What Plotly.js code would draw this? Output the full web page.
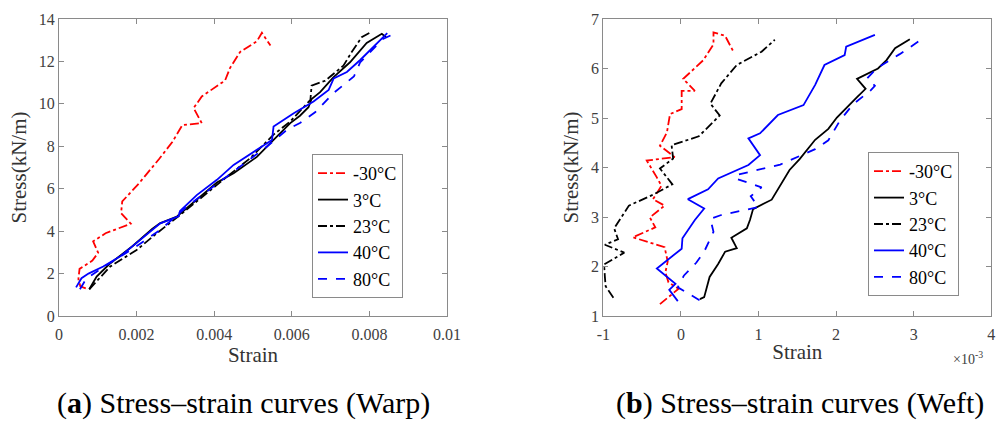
<!DOCTYPE html>
<html>
<head>
<meta charset="utf-8">
<script src="https://cdn.plot.ly/plotly-3.0.1.min.js"></script>
<style>html,body{margin:0;padding:0;background:#fff;}#chart{width:1003px;height:424px;}</style>
</head>
<body>
<div id="chart"></div>
<script>
// ---------- Warp (a) ----------
const warpM30X = [0.00069,0.00055,0.00050,0.00053,0.00086,0.00101,0.00088,0.00120,0.00185,0.00160,0.00163,0.00206,0.00258,0.00292,0.00318,0.00368,0.00347,0.00368,0.00428,0.00441,0.00467,0.00510,0.00523,0.00545];
const warpM30Y = [1.30,1.40,1.74,2.22,2.61,2.98,3.52,3.90,4.35,4.85,5.40,6.25,7.40,8.20,9.00,9.09,9.80,10.35,11.10,11.70,12.45,12.95,13.35,12.75];

const warp3X = [0.00078,0.00097,0.00130,0.00190,0.00240,0.00260,0.00304,0.00364,0.00407,0.00450,0.00510,0.00553,0.00596,0.00621,0.00643,0.00651,0.00673,0.00707,0.00750,0.00793,0.00832,0.00843];
const warp3Y = [1.26,1.86,2.45,3.30,4.10,4.37,4.69,5.63,6.29,6.73,7.50,8.30,9.09,9.44,9.84,10.23,10.55,11.25,11.96,12.87,13.30,13.14];

const warp23X = [0.00078,0.00095,0.00132,0.00200,0.00252,0.00312,0.00364,0.00433,0.00493,0.00553,0.00596,0.00631,0.00648,0.00651,0.00686,0.00733,0.00754,0.00780,0.00806];
const warp23Y = [1.26,1.60,2.33,3.11,3.90,4.76,5.55,6.57,7.44,8.55,9.17,9.87,10.19,10.86,11.09,11.80,12.43,13.14,13.40];

const warp40X = [0.00044,0.00058,0.00076,0.00114,0.00157,0.00209,0.00261,0.00308,0.00312,0.00355,0.00407,0.00450,0.00502,0.00549,0.00553,0.00605,0.00656,0.00695,0.00708,0.00742,0.00777,0.00811,0.00846];
const warp40Y = [1.35,1.78,2.00,2.33,2.80,3.58,4.37,4.70,4.95,5.70,6.42,7.12,7.75,8.30,8.93,9.56,10.11,10.66,11.20,11.50,12.08,12.70,13.33];

const warp80X = [0.00054,0.00070,0.00110,0.00192,0.00261,0.00330,0.00398,0.00467,0.00536,0.00587,0.00621,0.00660,0.00707,0.00760,0.00776,0.00793,0.00835,0.00875];
const warp80Y = [1.26,1.75,2.25,3.19,4.06,5.16,6.10,7.04,7.99,8.77,9.10,9.60,10.50,11.29,11.95,12.27,13.06,13.40];

// ---------- Weft (b), strain in units of 1e-3 ----------
const weftM30X = [-0.27,-0.03,-0.16,-0.20,-0.17,-0.21,-0.62,-0.33,-0.40,-0.21,-0.36,-0.25,-0.31,-0.44,-0.08,-0.27,-0.18,-0.14,0.01,0.01,0.18,0.03,0.29,0.42,0.42,0.57,0.68];
const weftM30Y = [1.24,1.55,1.68,1.88,2.10,2.39,2.59,2.79,2.99,3.23,3.36,3.63,3.80,4.14,4.21,4.44,4.71,5.08,5.18,5.55,5.55,5.79,6.17,6.49,6.73,6.66,6.33];

const weft3X = [0.245,0.30,0.37,0.48,0.57,0.72,0.65,0.85,0.89,0.93,1.17,1.28,1.40,1.53,1.73,1.90,2.01,2.27,2.38,2.27,2.44,2.54,2.65,2.76,2.95];
const weft3Y = [1.34,1.38,1.79,2.05,2.30,2.37,2.58,2.77,2.94,3.16,3.35,3.63,3.95,4.17,4.56,4.78,5.01,5.42,5.59,5.79,5.92,6.00,6.17,6.41,6.59];

const weft23X = [-0.87,-0.97,-0.98,-0.99,-0.73,-0.98,-0.81,-0.86,-0.67,-0.36,-0.11,-0.27,-0.10,-0.12,0.23,0.50,0.38,0.52,0.72,1.04,1.21];
const weft23Y = [1.37,1.60,1.80,2.04,2.28,2.44,2.55,2.77,3.23,3.45,3.66,3.98,4.18,4.45,4.63,5.05,5.29,5.70,6.07,6.34,6.58];

const weft40X = [-0.04,-0.15,-0.07,-0.31,0.01,0.02,0.18,0.30,0.09,0.35,0.48,0.87,1.02,0.87,1.02,1.25,1.58,1.73,1.85,2.11,2.13,2.50];
const weft40Y = [1.30,1.53,1.65,1.96,2.36,2.57,2.94,3.17,3.36,3.56,3.78,4.05,4.25,4.59,4.69,5.06,5.26,5.67,6.07,6.27,6.44,6.68];

const weft80X = [0.24,-0.04,0.04,0.20,0.30,0.42,0.38,0.52,1.00,0.90,1.04,0.70,0.72,1.28,1.73,1.90,2.05,2.22,2.44,2.50,2.40,2.52,2.82,3.15];
const weft80Y = [1.32,1.58,1.82,2.08,2.30,2.70,2.96,3.04,3.20,3.42,3.60,3.78,3.85,4.06,4.37,4.55,4.95,5.28,5.55,5.65,5.80,6.00,6.29,6.64];

const seriesNames = ['-30°C','3°C','23°C','40°C','80°C'];
const warpXTicks = [0,0.002,0.004,0.006,0.008,0.01];
const warpXTickText = ['0','0.002','0.004','0.006','0.008','0.01'];
const warpYTicks = [0,2,4,6,8,10,12,14];
const weftXTicks = [-1,0,1,2,3,4];
const weftXTickText = ['-1','0','1','2','3','4'];
const weftYTicks = [1,2,3,4,5,6,7];

const styles = [
  {color:'#ff0000', dash:'dashdot'},
  {color:'#000000', dash:'solid'},
  {color:'#000000', dash:'dashdot'},
  {color:'#0000ff', dash:'solid'},
  {color:'#0000ff', dash:'dash'}
];
const warpData = [[warpM30X,warpM30Y],[warp3X,warp3Y],[warp23X,warp23Y],[warp40X,warp40Y],[warp80X,warp80Y]];
const weftData = [[weftM30X,weftM30Y],[weft3X,weft3Y],[weft23X,weft23Y],[weft40X,weft40Y],[weft80X,weft80Y]];

const traces = [];
warpData.forEach((d,i)=>traces.push({x:d[0],y:d[1],type:'scatter',mode:'lines',name:seriesNames[i],
  line:{color:styles[i].color,dash:styles[i].dash,width:1.8},xaxis:'x',yaxis:'y',legend:'legend'}));
weftData.forEach((d,i)=>traces.push({x:d[0],y:d[1],type:'scatter',mode:'lines',name:seriesNames[i],
  line:{color:styles[i].color,dash:styles[i].dash,width:1.8},xaxis:'x2',yaxis:'y2',legend:'legend2'}));

const serif = 'Liberation Serif';
function tf(){ return {family:serif,size:16,color:'#404040'}; }
function ttl(t){ return {text:t, font:{family:serif,size:21,color:'#333'}}; }
function axis(extra){
  return Object.assign({showline:true, linecolor:'#8a8a8a', linewidth:1, mirror:'ticks', ticks:'inside', ticklen:5,
    tickcolor:'#8a8a8a', showgrid:false, zeroline:false, automargin:false, tickfont:tf()}, extra);
}
const yDom = [1-316/424, 1-19/424];

function leg(x,y){
  return {bgcolor:'#ffffff', bordercolor:'#8a8a8a', borderwidth:1,
    font:{family:serif,size:18,color:'#000'}, xanchor:'left', yanchor:'top', tracegroupgap:0, x:x, y:y};
}

const layout = {
  width:1003, height:424, margin:{l:0,r:0,t:0,b:0},
  font:{family:serif, size:16, color:'#333'},
  paper_bgcolor:'#fff', plot_bgcolor:'#fff', showlegend:true,
  xaxis:axis({domain:[59/1003,447/1003], range:[0,0.01], tickvals:warpXTicks, ticktext:warpXTickText,
    ticklabelstandoff:4, title:Object.assign(ttl('Strain'),{standoff:2}), anchor:'y'}),
  yaxis:axis({domain:yDom, range:[0,14], tickvals:warpYTicks,
    title:Object.assign(ttl('Stress(kN/m)'),{standoff:6}), anchor:'x'}),
  xaxis2:axis({domain:[603.3/1003,991.3/1003], range:[-1,4], tickvals:weftXTicks, ticktext:weftXTickText,
    ticklabelstandoff:4, title:Object.assign(ttl('Strain'),{standoff:2}), anchor:'y2'}),
  yaxis2:axis({domain:yDom, range:[1,7], tickvals:weftYTicks,
    title:Object.assign(ttl('Stress(kN/m)'),{standoff:6}), anchor:'x2'}),
  legend:leg(312/1003, 1-154/424),
  legend2:leg(868/1003, 1-152/424),
  annotations:[
    {text:'×10<sup>-3</sup>', xref:'paper', yref:'paper', x:968/1003, y:1-358/424, xanchor:'center', yanchor:'middle', showarrow:false,
      font:{family:serif,size:14,color:'#404040'}},
    {text:'(<b>a</b>) Stress–strain curves (Warp)', xref:'paper', yref:'paper', x:243/1003, y:1-403/424, xanchor:'center', yanchor:'middle', showarrow:false,
      font:{family:serif,size:30,color:'#000'}},
    {text:'(<b>b</b>) Stress–strain curves (Weft)', xref:'paper', yref:'paper', x:800/1003, y:1-403/424, xanchor:'center', yanchor:'middle', showarrow:false,
      font:{family:serif,size:30,color:'#000'}}
  ]
};

Plotly.newPlot('chart', traces, layout, {displayModeBar:false, staticPlot:true});
</script>
</body>
</html>
